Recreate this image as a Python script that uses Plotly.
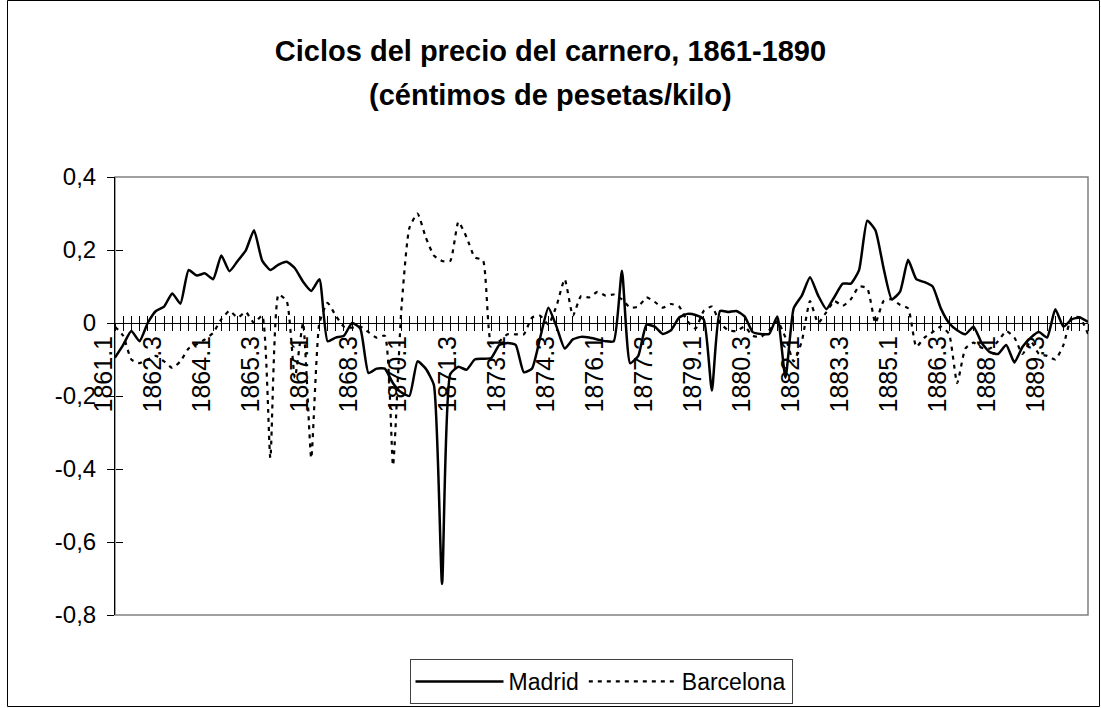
import plotly.graph_objects as go

# ---------------- data ----------------
years = list(range(1861, 1891))
quarters = [f"{y}.{q}" for y in years for q in (1, 2, 3, 4)]

x_tick_labels = ["1861.1", "1862.3", "1864.1", "1865.3", "1867.1", "1868.3", "1870.1",
                 "1871.3", "1873.1", "1874.3", "1876.1", "1877.3", "1879.1", "1880.3",
                 "1882.1", "1883.3", "1885.1", "1886.3", "1888.1", "1889.3"]

y_tick_vals = [-0.8, -0.6, -0.4, -0.2, 0, 0.2, 0.4]
y_tick_text = ["-0,8", "-0,6", "-0,4", "-0,2", "0", "0,2", "0,4"]

madrid = [
    -0.095, -0.06, -0.022, -0.05, 0.0, 0.033, 0.045, 0.081, 0.053, 0.145,
    0.13, 0.136, 0.12, 0.185, 0.142, 0.17, 0.199, 0.254, 0.171, 0.145,
    0.16, 0.168, 0.15, 0.113, 0.088, 0.12, -0.05, -0.04, -0.035, 0.0,
    -0.015, -0.137, -0.125, -0.125, -0.165, -0.19, -0.2, -0.105, -0.125, -0.17,
    -0.715, -0.14, -0.12, -0.128, -0.1, -0.098, -0.096, -0.06, -0.055, -0.06,
    -0.135, -0.125, -0.04, 0.042, -0.01, -0.07, -0.045, -0.038, -0.04, -0.045,
    -0.05, -0.05, 0.143, -0.11, -0.09, -0.005, -0.01, -0.03, -0.02, 0.015,
    0.025, 0.022, 0.01, -0.185, 0.033, 0.03, 0.033, 0.018, -0.025, -0.03,
    -0.03, 0.018, -0.15, 0.04, 0.075, 0.125, 0.075, 0.038, 0.072, 0.108,
    0.108, 0.145, 0.28, 0.254, 0.15, 0.065, 0.085, 0.173, 0.12, 0.112,
    0.1, 0.04, 0.0, -0.02, -0.031, -0.01, -0.055, -0.08, -0.085, -0.06,
    -0.108, -0.065, -0.04, -0.025, -0.04, 0.038, -0.01, 0.01, 0.015, 0.003,
]

barcelona = [
    -0.01, -0.035, -0.1, -0.11, -0.1, -0.09, -0.105, -0.123, -0.105, -0.07,
    -0.058, -0.045, -0.027, 0.01, 0.033, 0.015, 0.03, 0.0, 0.02, -0.37,
    0.078, 0.06, -0.15, 0.0, -0.37, 0.0, 0.055, 0.02, -0.01, -0.013,
    -0.01, -0.025, -0.04, -0.035, -0.39, 0.03, 0.26, 0.30, 0.235, 0.185,
    0.17, 0.17, 0.277, 0.235, 0.18, 0.172, -0.055, -0.05, -0.031, -0.031,
    -0.031, 0.015, 0.02, -0.004, 0.047, 0.12, 0.02, 0.074, 0.07, 0.085,
    0.075, 0.078, 0.065, 0.042, 0.045, 0.07, 0.058, 0.042, 0.052, 0.045,
    0.005, -0.015, 0.033, 0.045, 0.0, -0.02, -0.022, -0.01, -0.035, -0.038,
    -0.02, 0.005, -0.04, -0.105, -0.05, 0.06, 0.0, 0.03, 0.06, 0.047,
    0.065, 0.1, 0.095, 0.0, 0.06, 0.065, 0.05, 0.04, -0.065, -0.04,
    -0.025, -0.01, -0.03, -0.165, -0.07, -0.054, -0.068, -0.07, -0.05, -0.022,
    -0.04, -0.085, -0.05, -0.085, -0.09, -0.1, -0.06, 0.015, 0.015, -0.03,
]

# ---------------- figure ----------------
FONT = "Liberation Sans, Arial, sans-serif"
W, H = 1101, 708
ML, MR, MT, MB = 115, 13, 177, 93
PW, PH = W - ML - MR, H - MT - MB


def px_x(px):
    return (px - ML) / PW


def px_y(py):
    return (H - MB - py) / PH


fig = go.Figure()
fig.add_trace(go.Scatter(
    x=quarters, y=madrid, name="Madrid", mode="lines",
    line=dict(color="black", width=2.5, shape="spline", smoothing=0.5),
))
fig.add_trace(go.Scatter(
    x=quarters, y=barcelona, name="Barcelona", mode="lines",
    line=dict(color="black", width=2.2, dash="4px,5px", shape="spline", smoothing=0.5),
))
# invisible helper trace so the overlay axes (inner tick marks) are drawn
fig.add_trace(go.Scatter(
    x=quarters, y=madrid, xaxis="x2", yaxis="y2", mode="lines",
    line=dict(width=0, color="rgba(0,0,0,0)"), opacity=0,
    showlegend=False, hoverinfo="skip",
))

ticktext = [q if q in x_tick_labels else "" for q in quarters]
zero_pos = (0 - y_tick_vals[0]) / (y_tick_vals[-1] - y_tick_vals[0])

fig.update_layout(
    width=W, height=H,
    margin=dict(l=ML, r=MR, t=MT, b=MB, autoexpand=False),
    paper_bgcolor="white", plot_bgcolor="white",
    font=dict(family=FONT, color="black"),
    separators=", ",
    title=dict(
        text="<b>Ciclos del precio del carnero, 1861-1890</b>",
        x=0.5, xref="container", xanchor="center",
        y=1 - 51 / H, yref="container", yanchor="middle",
        font=dict(size=29, family=FONT, color="black"),
        automargin=False,
    ),
    xaxis=dict(
        type="category", categoryorder="array", categoryarray=quarters,
        range=[0, len(quarters) - 1],
        anchor="free", position=zero_pos, automargin=False,
        showline=True, linecolor="black", linewidth=1,
        ticks="outside", ticklen=7, tickcolor="black", tickwidth=1,
        tickvals=quarters, ticktext=ticktext, tickangle=-90,
        tickfont=dict(size=25, family=FONT, color="black"),
        ticklabelshift=-11, ticklabelstandoff=-5,
        showgrid=False, zeroline=False,
    ),
    xaxis2=dict(
        type="category", categoryorder="array", categoryarray=quarters,
        range=[0, len(quarters) - 1],
        overlaying="x", anchor="free", position=zero_pos, automargin=False,
        ticks="inside", ticklen=7, tickcolor="black", tickwidth=1,
        tickvals=quarters, showticklabels=False,
        showline=False, showgrid=False, zeroline=False,
    ),
    yaxis=dict(
        range=[y_tick_vals[0], y_tick_vals[-1]], automargin=False,
        tickvals=y_tick_vals, ticktext=y_tick_text,
        ticks="outside", ticklen=7, tickcolor="black", tickwidth=1,
        showline=True, linecolor="black", linewidth=1,
        showgrid=False, zeroline=False,
        tickfont=dict(size=24, family=FONT, color="black"),
        ticklabelstandoff=6,
    ),
    yaxis2=dict(
        range=[y_tick_vals[0], y_tick_vals[-1]], automargin=False,
        overlaying="y", anchor="free", position=0, side="left",
        ticks="inside", ticklen=7, tickcolor="black", tickwidth=1,
        tickvals=y_tick_vals, showticklabels=False,
        showgrid=False, zeroline=False, showline=False,
    ),
    legend=dict(
        orientation="h", x=px_x(601), xanchor="center",
        y=px_y(659), yanchor="top",
        bordercolor="#404040", borderwidth=1,
        font=dict(size=23, family=FONT, color="black"),
        itemwidth=88,
        bgcolor="white",
    ),
    showlegend=True,
    annotations=[dict(
        text="<b>(céntimos de pesetas/kilo)</b>",
        xref="paper", yref="paper",
        x=px_x(550.5), y=px_y(95), xanchor="center", yanchor="middle",
        showarrow=False, font=dict(size=29, family=FONT, color="black"),
    )],
    shapes=[
        # plot-area border
        dict(type="rect", xref="paper", yref="paper", x0=0, y0=0, x1=1, y1=1,
             line=dict(color="#808080", width=1.5), layer="below"),
        # chart frame
        dict(type="rect", xref="paper", yref="paper",
             x0=px_x(7.5), x1=px_x(1099.5), y0=px_y(706.5), y1=px_y(0.5),
             line=dict(color="black", width=1), layer="below"),
    ],
)

fig.write_html(
    "out.html",
    config={"displayModeBar": False},
    post_script="document.body.style.margin='0';document.body.style.overflow='hidden';",
)
